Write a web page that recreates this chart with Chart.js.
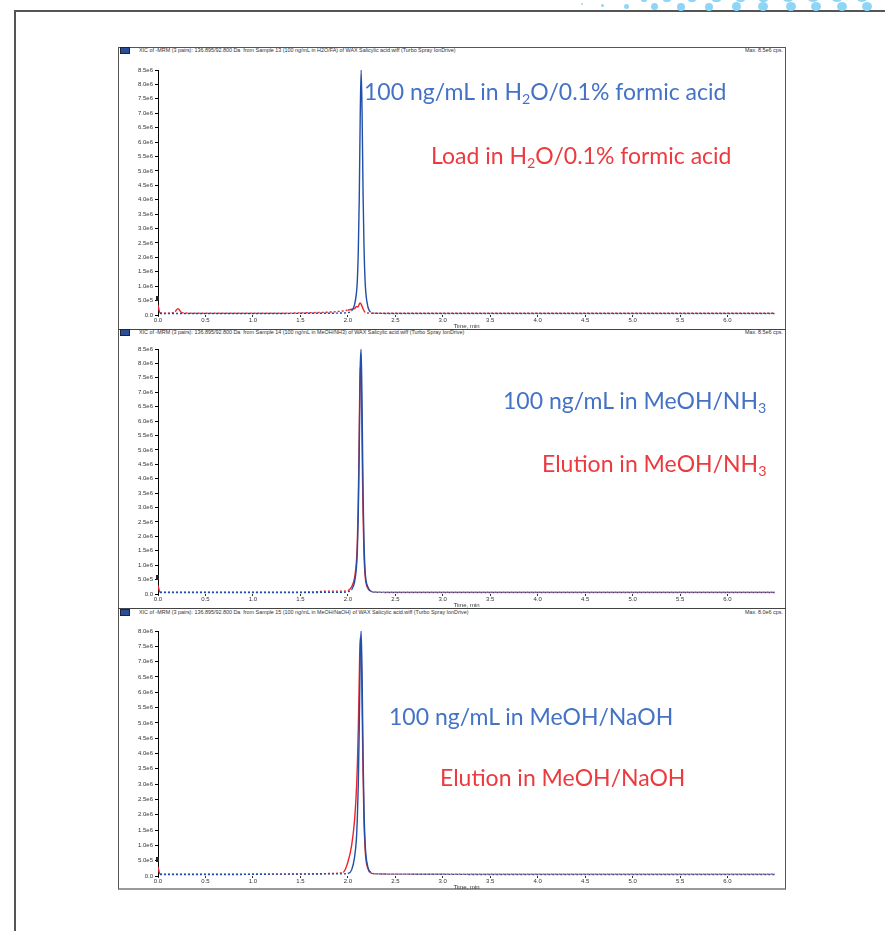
<!DOCTYPE html>
<html>
<head>
<meta charset="utf-8">
<script src="https://cdn.jsdelivr.net/npm/chart.js@4.4.1/dist/chart.umd.min.js"></script>
<style>
  html, body { margin: 0; padding: 0; background: #fff; }
  body { width: 885px; height: 931px; position: relative; overflow: hidden; font-family: "Liberation Sans", Arial, sans-serif; }
  .frame { position: absolute; left: 14px; top: 10px; width: 880px; height: 930px; border-left: 2px solid #555; border-top: 2px solid #555; }
  .box { position: absolute; left: 118px; top: 47px; width: 666px; height: 840px; border: 1px solid #555; border-bottom: 2px solid #999; }
  .sep { position: absolute; left: 118px; width: 668px; height: 1px; background: #444; }
  .hdr { position: absolute; left: 120px; width: 663px; height: 8px; font-size: 5.4px; line-height: 8px; color: #333; white-space: nowrap; }
  .hdr .ico { display: inline-block; width: 8px; height: 5px; background: #2a4f9a; border: 1px solid #223; vertical-align: middle; margin-right: 9px; }
  .hdr .max { position: absolute; right: 0; top: 0; }
  canvas { position: absolute; left: 118px; }
  .note { position: absolute; font-family: Lato, "Open Sans", sans-serif; font-size: 23px; line-height: 22px; white-space: nowrap; }
  .note sub { font-size: 0.62em; vertical-align: -0.3em; line-height: 0; }
  .blue { color: #4472c4; }
  .red { color: #ec3a3f; }
  .dot { position: absolute; border-radius: 50%; background: #8fd6f6; }
  .mark { position: absolute; left: 156px; width: 3px; height: 5px; background: #222; }
</style>
</head>
<body>
<div class="frame"></div>

<span class="dot" style="left:641px;top:-2px;width:6px;height:4px"></span>
<span class="dot" style="left:663px;top:-3px;width:8px;height:5px"></span>
<span class="dot" style="left:688px;top:-3px;width:8px;height:5px"></span>
<span class="dot" style="left:712px;top:-3px;width:9px;height:5px"></span>
<span class="dot" style="left:736px;top:-4px;width:9px;height:6px"></span>
<span class="dot" style="left:759px;top:-4px;width:9px;height:6px"></span>
<span class="dot" style="left:783px;top:-4px;width:10px;height:6px"></span>
<span class="dot" style="left:808px;top:-4px;width:10px;height:6px"></span>
<span class="dot" style="left:832px;top:-4px;width:10px;height:6px"></span>
<span class="dot" style="left:857px;top:-4px;width:10px;height:6px"></span>
<span class="dot" style="left:581px;top:3px;width:2px;height:2px"></span>
<span class="dot" style="left:601px;top:4px;width:3px;height:3px"></span>
<span class="dot" style="left:624px;top:4px;width:5px;height:5px"></span>
<span class="dot" style="left:651px;top:3px;width:7px;height:7px"></span>
<span class="dot" style="left:677px;top:3px;width:8px;height:8px"></span>
<span class="dot" style="left:705px;top:3px;width:8px;height:8px"></span>
<span class="dot" style="left:732px;top:2px;width:9px;height:9px"></span>
<span class="dot" style="left:758px;top:2px;width:10px;height:9px"></span>
<span class="dot" style="left:786px;top:2px;width:10px;height:9px"></span>
<span class="dot" style="left:811px;top:2px;width:10px;height:9px"></span>
<span class="dot" style="left:837px;top:2px;width:10px;height:9px"></span>
<span class="dot" style="left:862px;top:2px;width:10px;height:9px"></span>

<div class="box"></div>
<div class="sep" style="top:329px"></div>
<div class="sep" style="top:608px"></div>

<div class="hdr" style="top:46px"><span class="ico"></span>XIC of -MRM (3 pairs): 136.895/92.800 Da&nbsp; from Sample 13 (100 ng/mL in H2O/FA) of WAX Salicylic acid.wiff (Turbo Spray IonDrive)<span class="max">Max. 8.5e6 cps.</span></div>
<div class="hdr" style="top:328px"><span class="ico"></span>XIC of -MRM (3 pairs): 136.895/92.800 Da&nbsp; from Sample 14 (100 ng/mL in MeOH/NH3) of WAX Salicylic acid.wiff (Turbo Spray IonDrive)<span class="max">Max. 8.5e6 cps.</span></div>
<div class="hdr" style="top:608px"><span class="ico"></span>XIC of -MRM (3 pairs): 136.895/92.800 Da&nbsp; from Sample 15 (100 ng/mL in MeOH/NaOH) of WAX Salicylic acid.wiff (Turbo Spray IonDrive)<span class="max">Max. 8.0e6 cps.</span></div>

<canvas id="c1" width="667" height="274" style="top:56px"></canvas>
<canvas id="c2" width="667" height="273" style="top:336px"></canvas>
<canvas id="c3" width="667" height="275" style="top:616px"></canvas>

<div class="mark" style="top:296px"></div>
<div class="mark" style="top:575px"></div>
<div class="mark" style="top:857px"></div>

<div class="note blue" style="left:364px;top:80px">100 ng/mL in H<sub>2</sub>O/0.1% formic acid</div>
<div class="note red" style="left:431px;top:144px">Load in H<sub>2</sub>O/0.1% formic acid</div>
<div class="note blue" style="left:503px;top:389px">100 ng/mL in MeOH/NH<sub>3</sub></div>
<div class="note red" style="left:542px;top:452px">Elution in MeOH/NH<sub>3</sub></div>
<div class="note blue" style="left:389px;top:705px">100 ng/mL in MeOH/NaOH</div>
<div class="note red" style="left:440px;top:766px">Elution in MeOH/NaOH</div>

<script>
// retention time, min
const times = [0.00, 0.02, 0.10, 0.18, 0.21, 0.25, 0.40, 0.80, 1.20, 1.60, 1.80, 1.95,
               2.00, 2.04, 2.07, 2.09, 2.10, 2.11, 2.12, 2.13, 2.14, 2.15, 2.16, 2.17, 2.18, 2.19, 2.21, 2.24,
               2.30, 2.60, 3.50, 4.50, 5.50, 6.50];

// intensities in millions of cps
const h2oBlue  = [0.05, 0.05, 0.05, 0.05, 0.05, 0.05, 0.05, 0.05, 0.05, 0.06, 0.06, 0.07,
                  0.08, 0.15, 0.35, 0.75, 1.2, 2.2, 4.0, 6.8, 8.5, 7.0, 4.3, 2.4, 1.3, 0.75, 0.3, 0.1,
                  0.06, 0.05, 0.05, 0.05, 0.05, 0.05];
const h2oRed   = [0.35, 0.08, 0.06, 0.12, 0.22, 0.08, 0.06, 0.06, 0.06, 0.08, 0.1, 0.14,
                  0.17, 0.2, 0.22, 0.3, 0.28, 0.3, 0.37, 0.42, 0.38, 0.3, 0.22, 0.15, 0.1, 0.08, 0.07, 0.06,
                  0.06, 0.06, 0.06, 0.06, 0.06, 0.06];
const nh3Blue  = [0.05, 0.05, 0.05, 0.05, 0.05, 0.05, 0.05, 0.05, 0.05, 0.05, 0.06, 0.06,
                  0.08, 0.15, 0.4, 0.9, 1.5, 2.8, 5.0, 7.8, 8.5, 6.5, 3.6, 1.8, 0.9, 0.5, 0.25, 0.1,
                  0.06, 0.05, 0.05, 0.05, 0.05, 0.05];
const nh3Red   = [0.3, 0.07, 0.06, 0.06, 0.06, 0.06, 0.06, 0.06, 0.06, 0.07, 0.1, 0.1,
                  0.12, 0.25, 0.55, 1.1, 1.8, 3.2, 5.6, 7.9, 7.6, 5.2, 2.8, 1.4, 0.7, 0.4, 0.2, 0.1,
                  0.07, 0.06, 0.06, 0.06, 0.06, 0.06];
const naohBlue = [0.05, 0.05, 0.05, 0.05, 0.05, 0.05, 0.05, 0.05, 0.06, 0.06, 0.07, 0.07,
                  0.08, 0.2, 0.6, 1.2, 1.9, 3.0, 4.8, 7.2, 8.0, 6.6, 4.0, 2.2, 1.2, 0.7, 0.3, 0.12,
                  0.07, 0.06, 0.05, 0.05, 0.05, 0.05];
const naohRed  = [0.3, 0.07, 0.06, 0.06, 0.06, 0.06, 0.06, 0.06, 0.06, 0.07, 0.08, 0.12,
                  0.45, 1.0, 1.8, 2.8, 3.6, 4.8, 6.4, 7.8, 7.4, 5.6, 3.4, 1.8, 1.0, 0.55, 0.25, 0.1,
                  0.07, 0.06, 0.06, 0.06, 0.06, 0.06];

const yTop = [8.5, 8.5, 8.0];
const padTop = [14, 13, 15];

const BLUE = '#1f4fa8';
const RED = '#e8262c';

function pts(vals) {
    return times.map((t, i) => ({ x: t, y: vals[i] }));
}

// low signal is drawn dotted like the instrument baseline
function dotted(ctx) {
    return (ctx.p0.parsed.y < 0.2 && ctx.p1.parsed.y < 0.2) ? [2, 2] : undefined;
}

function makeChart(id, blue, red, max, pad) {
    const tickFont = { family: 'Liberation Sans', size: 6 };
    return new Chart(document.getElementById(id), {
        type: 'line',
        data: {
            datasets: [
                { data: pts(blue), borderColor: BLUE, borderWidth: 1.4, borderDashOffset: 2, segment: { borderDash: dotted } },
                { data: pts(red), borderColor: RED, borderWidth: 1.4, segment: { borderDash: dotted } }
            ]
        },
        options: {
            responsive: false,
            animation: false,
            devicePixelRatio: 1,
            layout: { padding: { top: pad, right: 10, left: 0, bottom: 0 } },
            elements: { point: { radius: 0 }, line: { cubicInterpolationMode: 'monotone' } },
            plugins: { legend: { display: false }, tooltip: { enabled: false } },
            scales: {
                x: {
                    type: 'linear',
                    min: 0,
                    max: 6.5,
                    afterFit: s => { s.height = 15; },
                    afterBuildTicks: s => { s.ticks = s.ticks.filter(t => t.value <= 6.0001); },
                    border: { display: false },
                    grid: { drawOnChartArea: false, tickLength: 2, color: '#333' },
                    ticks: { stepSize: 0.5, padding: 0, maxRotation: 0, autoSkip: false, color: '#333', font: tickFont,
                             callback: v => v.toFixed(1) },
                    title: { display: true, text: 'Time, min', color: '#333', font: tickFont, padding: 0 }
                },
                y: {
                    min: 0,
                    max: max,
                    afterFit: s => { s.width = 40; },
                    border: { display: true, color: '#000', width: 1 },
                    grid: { drawOnChartArea: false, tickLength: 3, color: '#000' },
                    ticks: { stepSize: 0.5, padding: 2, autoSkip: false, color: '#333', font: tickFont,
                             callback: v => v === 0 ? '0.0' : (v * 1e6).toExponential(1).replace('+', '') }
                }
            }
        }
    });
}

makeChart('c1', h2oBlue, h2oRed, yTop[0], padTop[0]);
makeChart('c2', nh3Blue, nh3Red, yTop[1], padTop[1]);
makeChart('c3', naohBlue, naohRed, yTop[2], padTop[2]);
</script>
</body>
</html>
